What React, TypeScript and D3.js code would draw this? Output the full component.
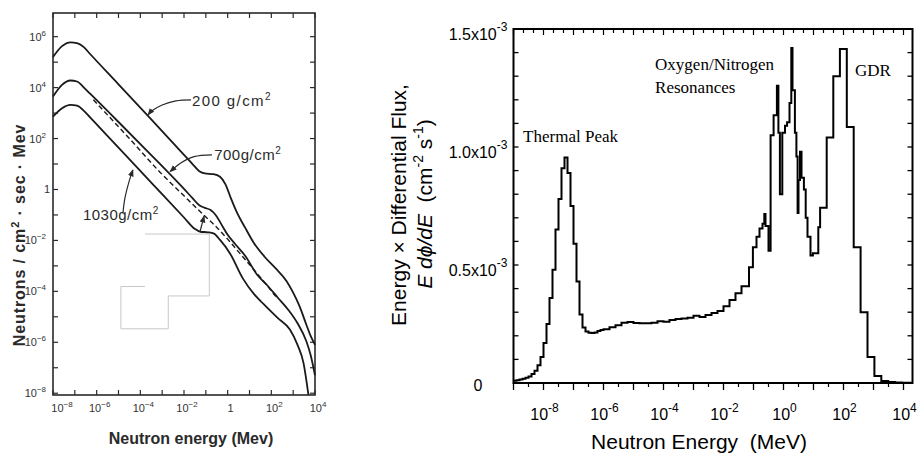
import React from "react";
import * as d3 from "d3";

// ================= LEFT PANEL (log10 E [MeV], log10 neutrons/cm²·sec·MeV) =================
const curve200LogE = [-8.0, -7.6, -7.2, -6.9, -6.6, -6.3, -5.0, -3.5, -2.0, -1.6, -1.3, -1.05, -0.65, -0.35, -0.1, 0.15, 0.45, 0.8, 1.2, 1.7, 2.2, 2.7, 3.0, 3.3, 3.6, 3.8, 4.0];
const curve200LogN = [5.2, 5.62, 5.78, 5.75, 5.6, 5.32, 4.13, 2.75, 1.36, 0.99, 0.72, 0.63, 0.6, 0.5, 0.2, -0.35, -0.95, -1.5, -2.1, -2.65, -3.1, -3.6, -4.05, -4.6, -5.3, -5.75, -6.1];

const curve700LogE = [-8.0, -7.6, -7.2, -6.9, -6.55, -6.3, -5.0, -3.5, -2.0, -1.6, -1.3, -1.05, -0.8, -0.55, -0.3, 0.0, 0.35, 0.8, 1.35, 1.8, 2.3, 2.8, 3.2, 3.6, 3.8, 4.0];
const curve700LogN = [3.65, 4.1, 4.28, 4.24, 3.97, 3.76, 2.65, 1.35, 0.02, -0.35, -0.62, -0.72, -0.8, -1.0, -1.35, -1.78, -2.15, -2.6, -3.35, -3.75, -4.25, -4.75, -5.25, -5.95, -6.5, -7.3];

const curve1030LogE = [-8.0, -7.6, -7.2, -6.9, -6.55, -6.3, -5.0, -3.5, -2.0, -1.5, -1.25, -0.9, -0.65, -0.35, 0.1, 0.7, 1.2, 1.65, 2.3, 2.85, 3.2, 3.47, 3.7];
const curve1030LogN = [2.86, 3.18, 3.32, 3.29, 3.06, 2.83, 1.64, 0.27, -1.1, -1.55, -1.66, -1.68, -1.72, -1.98, -2.5, -3.5, -4.1, -4.5, -5.05, -5.5, -6.1, -6.8, -8.07];

const dashedLogE = [-6.15, -4.5, -3.1, -2.0, -1.1, -0.6, 0.0, 0.5, 1.0, 1.5, 2.2];
const dashedLogN = [3.52, 2.0, 0.68, -0.25, -1.0, -1.4, -1.95, -2.45, -2.95, -3.45, -4.2];

const leftXTickExp = [-8, -6, -4, -2, 0, 2, 4];
const leftYTickExp = [6, 4, 2, 0, -2, -4, -6, -8];
const leftAllDecades = [-8, -7, -6, -5, -4, -3, -2, -1, 0, 1, 2, 3, 4, 5, 6];

// depth labels: text, anchor (logE, logN)
const depthLabelText = ["200 g/cm", "700g/cm", "1030g/cm"];
const depthLabelLogE = [-1.63, -0.62, -6.63];
const depthLabelLogN = [3.28, 1.16, -1.2];
// leader arrows (logE, logN) – ending at the tip
const arrow200LogE = [-1.68, -2.37, -3.0, -3.47, -3.65];
const arrow200LogN = [3.52, 3.48, 3.32, 3.09, 2.93];
const arrow700LogE = [-0.72, -1.54, -2.13, -2.64];
const arrow700LogN = [1.36, 1.29, 1.05, 0.7];
const arrow1030LogE = [-4.8, -4.71, -4.52, -4.34];
const arrow1030LogN = [-0.95, -0.36, 0.3, 0.77];
const arrowSmallLogE = [-1.27, -1.08];
const arrowSmallLogN = [-1.67, -1.04];
// faint outline seen in the scan
const outlineLogE = [-3.79, -0.84, -0.84, -2.72, -2.72, -4.89, -4.89, -3.79];
const outlineLogN = [-1.75, -1.75, -4.18, -4.18, -5.47, -5.47, -3.81, -3.81];

// ================= RIGHT PANEL (histogram, bin start log10 E [MeV], flux ×10⁻³) =================
const binStartLogE = [
  -9.0, -8.9, -8.8, -8.7, -8.6, -8.5, -8.4, -8.3, -8.2, -8.1,
  -8.0, -7.9, -7.8, -7.7, -7.6, -7.5, -7.4, -7.3, -7.2, -7.1,
  -7.0, -6.9, -6.8, -6.7, -6.6, -6.5, -6.4, -6.3, -6.2, -6.1,
  -6.0, -5.8, -5.6, -5.4, -5.2, -5.0, -4.8, -4.6, -4.4, -4.2,
  -4.0, -3.8, -3.6, -3.4, -3.2, -3.0, -2.8, -2.6, -2.4, -2.2,
  -2.0, -1.8, -1.6, -1.4,
  -1.15, -1.02, -0.9, -0.8, -0.7, -0.64, -0.6, -0.5, -0.43, -0.33,
  -0.22, -0.17, -0.12, -0.04, 0.05, 0.12, 0.2, 0.26, 0.3, 0.38,
  0.43, 0.47, 0.5, 0.55, 0.6, 0.68, 0.74, 0.8, 0.9, 0.98,
  1.16, 1.22, 1.44, 1.66, 1.88, 2.11, 2.34, 2.57, 2.8, 3.03,
  3.26, 3.49, 3.72, 3.95,
];
const binFlux = [
  0.01, 0.012, 0.015, 0.018, 0.022, 0.028, 0.038, 0.052, 0.075, 0.11,
  0.17, 0.25, 0.36, 0.48, 0.65, 0.78, 0.91, 0.955, 0.89, 0.75,
  0.59, 0.43, 0.29, 0.235, 0.218, 0.213, 0.212, 0.214, 0.22, 0.225,
  0.228, 0.236, 0.245, 0.255, 0.259, 0.254, 0.253, 0.253, 0.255, 0.262,
  0.26, 0.267, 0.271, 0.273, 0.277, 0.285, 0.28, 0.288, 0.297, 0.305,
  0.325, 0.352, 0.38, 0.41,
  0.49, 0.575, 0.62, 0.655, 0.675, 0.716, 0.665, 0.56, 1.05, 1.135,
  1.26, 1.06, 0.8, 1.06, 1.09, 1.105, 1.186, 1.42, 1.24, 1.06,
  0.96, 0.72, 0.86, 0.98, 0.87, 0.82, 0.7, 0.62, 0.54, 0.55,
  0.66, 0.743, 1.04, 1.3, 1.415, 1.085, 0.575, 0.3, 0.11, 0.03,
  0.008, 0.004, 0.002, 0.001,
];
const lastBinEdgeLogE = 4.3;

const rightXTickExp = [-8, -6, -4, -2, 0, 2, 4];
const rightYTickValues = [0, 0.5e-3, 1.0e-3, 1.5e-3];
const rightYTickMantissa = ["0", "0.5x10", "1.0x10", "1.5x10"];
const rightYTickExp = ["", "-3", "-3", "-3"];

const annotText = ["Thermal Peak", "Oxygen/Nitrogen", "Resonances", "GDR"];
const annotLogE = [-8.68, -4.28, -4.28, 2.38];
const annotFlux = [1.021e-3, 1.326e-3, 1.229e-3, 1.3e-3];

const SANS = "'Liberation Sans', Arial, sans-serif";
const SERIF = "'Liberation Serif', 'Times New Roman', serif";

export default function App() {
  // ---- scales ----
  const xL = d3.scaleLog().domain([1e-8, 1e4]).range([53, 315]);
  const yL = d3.scaleLog().domain([10 ** -8.07, 10 ** 6.93]).range([395, 13]);
  const xR = d3.scaleLog().domain([1e-9, 10 ** 4.3]).range([513.5, 912.5]);
  const yR = d3.scaleLinear().domain([0, 1.5e-3]).range([383, 29]);

  const [lx0, lx1] = xL.range();
  const [ly0, ly1] = yL.range();
  const [rx0, rx1] = xR.range();
  const [ry0, ry1] = yR.range();

  const leftLine = d3
    .line<[number, number]>()
    .x((d) => xL(10 ** d[0]))
    .y((d) => yL(10 ** d[1]))
    .curve(d3.curveMonotoneX);
  const leftSmooth = d3
    .line<[number, number]>()
    .x((d) => xL(10 ** d[0]))
    .y((d) => yL(10 ** d[1]))
    .curve(d3.curveCatmullRom);
  const zip = (a: number[], b: number[]) => a.map((v, i) => [v, b[i]] as [number, number]);

  const histPts: [number, number][] = binStartLogE.map((s, i) => [s, binFlux[i]]);
  histPts.push([lastBinEdgeLogE, binFlux[binFlux.length - 1]]);
  const histLine = d3
    .line<[number, number]>()
    .x((d) => xR(10 ** d[0]))
    .y((d) => yR(d[1] * 1e-3))
    .curve(d3.curveStepAfter);

  const rxMajor = d3.range(-9, 4.31, 1).map((e) => 10 ** e);
  const rxHalf = d3.range(-8.5, 4.31, 1).map((e) => 10 ** e);
  const rxThird = d3.range(-9, 4.31, 1 / 3).map((e) => 10 ** e);
  const ryMinor = yR.ticks(15);

  const ink = "#1a1a1a";
  const scanInk = "#2a2a2a";

  return (
    <svg
      width={917}
      height={455}
      style={{ position: "absolute", left: 0, top: 0, background: "#fff" }}
      xmlns="http://www.w3.org/2000/svg"
    >
      <defs>
        <marker id="arr" viewBox="0 0 10 10" refX="9" refY="5" markerWidth="6" markerHeight="6" orient="auto">
          <path d="M0,1 L10,5 L0,9 z" fill={scanInk} />
        </marker>
      </defs>
      <rect x={0} y={0} width={917} height={455} fill="#fff" />

      {/* ================= LEFT PANEL ================= */}
      <g>
        <path
          d={d3.line<[number, number]>().x((d) => xL(10 ** d[0])).y((d) => yL(10 ** d[1]))(zip(outlineLogE, outlineLogN)) || ""}
          fill="none"
          stroke="#c8c8c8"
          strokeWidth={1}
        />
        <rect x={lx0} y={ly1} width={lx1 - lx0} height={ly0 - ly1} fill="none" stroke={scanInk} strokeWidth={1.6} />
        {leftAllDecades.filter((e) => e >= -8 && e <= 4).map((e) => (
          <g key={"lxt" + e}>
            <line x1={xL(10 ** e)} x2={xL(10 ** e)} y1={ly0} y2={ly0 - 5} stroke={scanInk} strokeWidth={1.2} />
            <line x1={xL(10 ** e)} x2={xL(10 ** e)} y1={ly1} y2={ly1 + 5} stroke={scanInk} strokeWidth={1.2} />
          </g>
        ))}
        {leftAllDecades.map((e) => (
          <g key={"lyt" + e}>
            <line x1={lx0} x2={lx0 + 5} y1={yL(10 ** e)} y2={yL(10 ** e)} stroke={scanInk} strokeWidth={1.2} />
            <line x1={lx1} x2={lx1 - 5} y1={yL(10 ** e)} y2={yL(10 ** e)} stroke={scanInk} strokeWidth={1.2} />
          </g>
        ))}
        {leftXTickExp.map((e, i) => (
          <text
            key={"lxl" + e}
            x={xL(10 ** e) + (i === 0 ? 9 : 3)}
            y={412}
            textAnchor="middle"
            fontFamily={SANS}
            fontSize={11}
            fill="#333"
          >
            {e === 0 ? "1" : "10"}
            {e !== 0 && (
              <tspan dy={-5} fontSize={8}>
                {e < 0 ? "−" + Math.abs(e) : String(e)}
              </tspan>
            )}
          </text>
        ))}
        {leftYTickExp.map((e) => (
          <text
            key={"lyl" + e}
            x={e === 0 ? 50 : 46}
            y={yL(10 ** e) + 4}
            textAnchor="end"
            fontFamily={SANS}
            fontSize={11}
            fill="#333"
          >
            {e === 0 ? "1" : "10"}
            {e !== 0 && (
              <tspan dy={-5} fontSize={8}>
                {e < 0 ? "−" + Math.abs(e) : String(e)}
              </tspan>
            )}
          </text>
        ))}
        <path d={leftLine(zip(curve200LogE, curve200LogN)) || ""} fill="none" stroke={ink} strokeWidth={1.8} />
        <path d={leftLine(zip(curve700LogE, curve700LogN)) || ""} fill="none" stroke={ink} strokeWidth={1.8} />
        <path d={leftLine(zip(curve1030LogE, curve1030LogN)) || ""} fill="none" stroke={ink} strokeWidth={1.8} />
        <path
          d={leftLine(zip(dashedLogE, dashedLogN)) || ""}
          fill="none"
          stroke={ink}
          strokeWidth={1.4}
          strokeDasharray="5,3"
        />
        {[
          zip(arrow200LogE, arrow200LogN),
          zip(arrow700LogE, arrow700LogN),
          zip(arrow1030LogE, arrow1030LogN),
          zip(arrowSmallLogE, arrowSmallLogN),
        ].map((pts, i) => (
          <path key={"arr" + i} d={leftSmooth(pts) || ""} fill="none" stroke={scanInk} strokeWidth={1.2} markerEnd="url(#arr)" />
        ))}
        {depthLabelText.map((t, i) => (
          <text
            key={"dl" + i}
            x={xL(10 ** depthLabelLogE[i])}
            y={yL(10 ** depthLabelLogN[i])}
            fontFamily={SANS}
            fontSize={15}
            letterSpacing={i === 0 ? 1.4 : 0.5}
            fill={scanInk}
          >
            {t}
            <tspan dy={-6} fontSize={10}>
              2
            </tspan>
          </text>
        ))}
        <text
          x={(lx0 + lx1) / 2 + 7}
          y={444}
          textAnchor="middle"
          fontFamily={SANS}
          fontWeight="bold"
          fontSize={16}
          fill={scanInk}
        >
          Neutron energy (Mev)
        </text>
        <text
          transform={`translate(25,235) rotate(-90)`}
          textAnchor="middle"
          fontFamily={SANS}
          fontWeight="bold"
          fontSize={16}
          letterSpacing={0.9}
          fill={scanInk}
        >
          Neutrons / cm
          <tspan dy={-6} fontSize={11}>
            2
          </tspan>
          <tspan dy={6}> · sec · Mev</tspan>
        </text>
      </g>

      {/* ================= RIGHT PANEL ================= */}
      <g>
        <rect x={rx0} y={ry1} width={rx1 - rx0} height={ry0 - ry1} fill="none" stroke="#000" strokeWidth={2} />
        {ryMinor.map((v) => (
          <g key={"ryt" + v}>
            <line x1={rx0} x2={rx0 + 5} y1={yR(v)} y2={yR(v)} stroke="#000" strokeWidth={1.3} />
            <line x1={rx1} x2={rx1 - 5} y1={yR(v)} y2={yR(v)} stroke="#000" strokeWidth={1.3} />
          </g>
        ))}
        {rxMajor.map((v) => (
          <line key={"rbM" + v} x1={xR(v)} x2={xR(v)} y1={ry0} y2={ry0 + 7} stroke="#000" strokeWidth={1.3} />
        ))}
        {rxHalf.map((v) => (
          <line key={"rbm" + v} x1={xR(v)} x2={xR(v)} y1={ry0} y2={ry0 + 4} stroke="#000" strokeWidth={1.2} />
        ))}
        {rxThird.map((v, i) => (
          <line
            key={"rt" + i}
            x1={xR(v)}
            x2={xR(v)}
            y1={ry1}
            y2={ry1 + (i % 3 === 0 ? 6 : 4)}
            stroke="#000"
            strokeWidth={1.2}
          />
        ))}
        <path d={histLine(histPts) || ""} fill="none" stroke="#000" strokeWidth={2} strokeLinejoin="miter" />

        {rightYTickValues.map((v, i) => (
          <text
            key={"ryl" + i}
            x={478}
            y={yR(v) + (i === 0 ? 8 : 11)}
            textAnchor="middle"
            fontFamily={SANS}
            fontSize={16}
            fill="#000"
          >
            {rightYTickMantissa[i]}
            {rightYTickExp[i] && (
              <tspan dy={-9} fontSize={12}>
                {rightYTickExp[i]}
              </tspan>
            )}
          </text>
        ))}
        {rightXTickExp.map((e) => (
          <text key={"rxl" + e} x={xR(10 ** e) + 1} y={420} textAnchor="middle" fontFamily={SANS} fontSize={16} fill="#000">
            10
            <tspan dy={-8} fontSize={12}>
              {String(e)}
            </tspan>
          </text>
        ))}
        <text x={699} y={449} textAnchor="middle" fontFamily={SANS} fontSize={21} fill="#000">
          Neutron Energy{"\u00A0\u00A0"}(MeV)
        </text>
        <text transform="translate(406,205) rotate(-90)" textAnchor="middle" fontFamily={SANS} fontSize={21} fill="#000">
          Energy × Differential Flux,
        </text>
        <text transform="translate(432,204) rotate(-90)" textAnchor="middle" fontFamily={SANS} fontSize={21} fill="#000">
          <tspan fontStyle="italic">E dϕ/dE</tspan>
          {"\u00A0\u00A0(cm"}
          <tspan dy={-9} fontSize={14}>
            -2
          </tspan>
          <tspan dy={9}>{"\u00A0s"}</tspan>
          <tspan dy={-9} fontSize={14}>
            -1
          </tspan>
          <tspan dy={9}>)</tspan>
        </text>
        {annotText.map((t, i) => (
          <text
            key={"an" + i}
            x={xR(10 ** annotLogE[i])}
            y={yR(annotFlux[i])}
            fontFamily={SERIF}
            fontSize={17}
            fill="#000"
          >
            {t}
          </text>
        ))}
      </g>
    </svg>
  );
}
